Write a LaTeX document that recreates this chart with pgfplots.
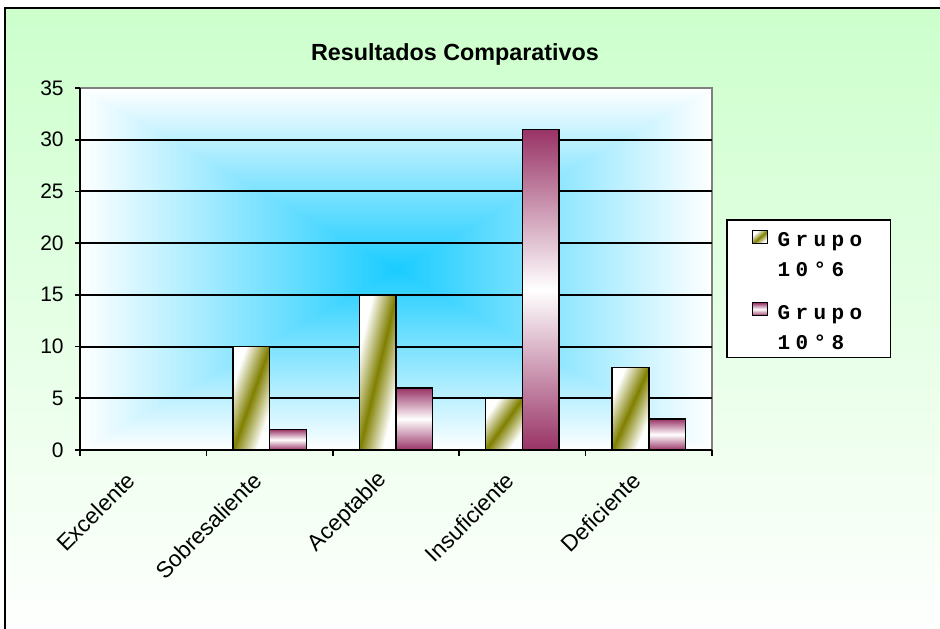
\documentclass[border=0pt]{standalone}
\usepackage{pgfplots}
\pgfplotsset{compat=1.18}
\usepackage{fontspec}
\setmainfont{Liberation Sans}
\newfontfamily\legfont[LetterSpace=26]{Liberation Mono}
\definecolor{bggreen}{HTML}{CCFFCC}
\definecolor{olivebar}{HTML}{808000}
\definecolor{maroonbar}{HTML}{993366}
% rectangular "from centre" gradient: cyan at centre, white at the edges
\pgfdeclarefunctionalshading{rectcenter}{\pgfpoint{-50bp}{-50bp}}{\pgfpoint{50bp}{50bp}}{}{abs exch abs 2 copy lt {exch} if pop 25 div dup 1 gt {pop 1} if dup 0.9 mul 0.1 add exch dup 0.2 mul 0.8 add exch pop 1}
% diagonal olive band from lower left to upper right, white towards the other corners
\pgfdeclarefunctionalshading{olivediag}{\pgfpoint{-50bp}{-50bp}}{\pgfpoint{50bp}{50bp}}{}{sub abs 32 div dup 1 gt {pop 1} if dup 0.5 mul 0.5 add exch dup 0.5 mul 0.5 add exch}
\pgfplotsset{
  g6/.style={draw=black, line width=1.1pt, shade, shading=olivediag, bar shift=-0.145},
  g8/.style={draw=black, line width=1.1pt, top color=maroonbar, bottom color=maroonbar, middle color=white, bar shift=0.145},
}
\begin{document}
\begin{tikzpicture}
\useasboundingbox (0,0) rectangle (705pt,471.75pt);
\fill[white] (0,0) rectangle (705pt,471.75pt);
\shade[top color=bggreen, bottom color=white] (3.75pt,-10pt) rectangle (712pt,465.75pt);
\draw[line width=1.5pt] (3.75pt,-10pt) -- (3.75pt,465.75pt) -- (712pt,465.75pt);
\begin{axis}[
  at={(60pt,134.25pt)}, anchor=south west,
  scale only axis, width=474pt, height=271.5pt,
  ybar,
  ymin=0, ymax=35, xmin=-0.5, xmax=4.5,
  enlargelimits=false,
  axis x line*=bottom, axis y line*=left,
  axis line style={black, line width=1.5pt},
  axis background/.style={shade, shading=rectcenter, draw=gray, line width=1.5pt},
  ytick={0,5,...,30}, extra y ticks={35}, extra y tick style={grid=none},
  ymajorgrids, grid style={black, line width=1.4pt},
  xtick={0,...,4},
  xticklabels={Excelente,Sobresaliente,Aceptable,Insuficiente,Deficiente},
  major x tick style={draw=none},
  minor xtick={-0.5,0.5,...,4.5},
  tick style={black, line width=1.2pt},
  tick align=outside,
  major tick length=3.75pt, minor tick length=4.5pt,
  /pgf/number format/assume math mode=true,
  yticklabel style={font=\fontsize{15.75}{18}\selectfont, anchor=east, xshift=-5pt},
  xticklabel style={font=\fontsize{17}{19}\selectfont, rotate=45, anchor=east, xshift=-14.5pt, yshift=-5pt},
  bar width=0.29,
  title={Resultados Comparativos},
  title style={at={(0.5934,1.0801)}, anchor=base, yshift=-7pt, font=\bfseries\fontsize{17.5}{20}\selectfont},
  legend style={at={(1.0222,0.638)}, anchor=north west, draw=black, line width=1.2pt, fill=white,
    font=\legfont\bfseries\fontsize{15.75}{22.5}\selectfont,
    inner xsep=19pt, inner ysep=2.6pt, row sep=10.5pt},
  legend cell align=left,
  legend image code/.code={\draw[#1, line width=0.9pt] (0pt,6.75pt) rectangle (11.25pt,16.5pt); \path (16pt,10pt);},
]
% Grupo 10°6
\addplot[g6] coordinates {(1,10)};
\addlegendentry{\begin{tabular}[b]{@{}l@{}}Grupo\\10°6\end{tabular}}
\addplot[draw=black, line width=1.1pt, fill=none, bar shift=-0.145, forget plot] coordinates {(0,0)};
\addplot[g6, forget plot] coordinates {(2,15)};
\addplot[g6, forget plot] coordinates {(3,5)};
\addplot[g6, forget plot] coordinates {(4,8)};
% Grupo 10°8
\addplot[g8] coordinates {(1,2)};
\addlegendentry{\begin{tabular}[b]{@{}l@{}}Grupo\\10°8\end{tabular}}
\addplot[draw=black, line width=1.1pt, fill=none, bar shift=0.145, forget plot] coordinates {(0,0)};
\addplot[g8, forget plot] coordinates {(2,6)};
\addplot[g8, forget plot] coordinates {(3,31)};
\addplot[g8, forget plot] coordinates {(4,3)};
\end{axis}
\end{tikzpicture}
\end{document}
